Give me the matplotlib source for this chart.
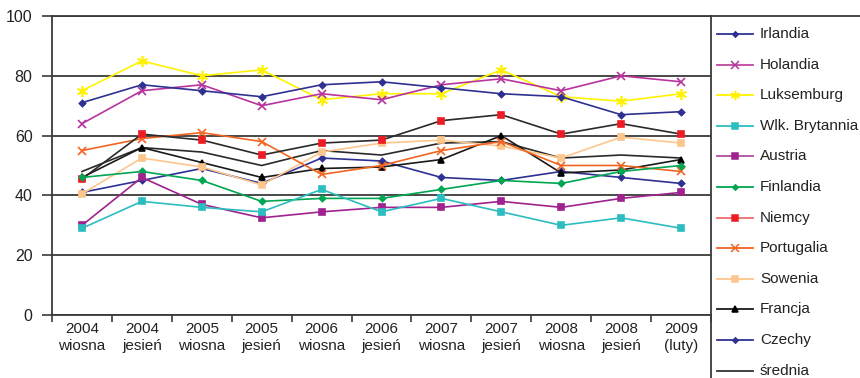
import matplotlib
matplotlib.use("Agg")
from matplotlib import pyplot as plt
from matplotlib.lines import Line2D

plt.rcParams['font.family'] = ['Liberation Sans', 'DejaVu Sans']

periods = ["2004\nwiosna", "2004\njesień", "2005\nwiosna", "2005\njesień", "2006\nwiosna",
           "2006\njesień", "2007\nwiosna", "2007\njesień", "2008\nwiosna", "2008\njesień",
           "2009\n(luty)"]

irlandia = [71, 77, 75, 73, 77, 78, 76, 74, 73, 67, 68]
holandia = [64, 75, 77, 70, 74, 72, 77, 79, 75, 80, 78]
luksemburg = [75, 85, 80, 82, 72, 74, 74, 82, 73, 71.5, 74]
wlk_brytania = [29, 38, 36, 34.5, 42, 34.5, 39, 34.5, 30, 32.5, 29]
austria = [30, 46, 37, 32.5, 34.5, 36, 36, 38, 36, 39, 41]
finlandia = [46, 48, 45, 38, 39, 39, 42, 45, 44, 48, 50]
niemcy = [45.5, 60.5, 58.5, 53.5, 57.5, 58.5, 65, 67, 60.5, 64, 60.5]
portugalia = [55, 59, 61, 58, 47, 50, 55, 58, 50, 50, 48]
slowenia = [40.5, 52.5, 49.5, 43.5, 54.5, 57.5, 58.5, 56.5, 52.5, 59.5, 57.5]
francja = [46, 56, 51, 46, 49, 49.5, 52, 60, 47.5, 48.5, 52]
czechy = [41, 45, 49, 44, 52.5, 51.5, 46, 45, 48, 46, 44]
srednia = [48, 56, 54.5, 50, 55, 53.5, 57.5, 58, 52.5, 53.5, 52.5]

# name, values, line colour, marker colour, marker, marker size, legend line colour
series = [
    ("Irlandia", irlandia, "#2e3192", "#2e3192", "D", 3.2, "#2e3192"),
    ("Holandia", holandia, "#b8339e", "#b8339e", "x", 6, "#c2479f"),
    ("Luksemburg", luksemburg, "#fff200", "#fff200", (6, 2, 0), 8, "#fff200"),
    ("Wlk. Brytannia", wlk_brytania, "#2bbdc0", "#2bbdc0", "s", 4.5, "#2bbdc0"),
    ("Austria", austria, "#a0228f", "#a0228f", "s", 4.5, "#b04ea0"),
    ("Finlandia", finlandia, "#00a651", "#00a651", "D", 3.2, "#00a651"),
    ("Niemcy", niemcy, "#2a2a2a", "#ed1c24", "s", 5, "#f06b6f"),
    ("Portugalia", portugalia, "#f26522", "#f26522", "x", 6, "#f26522"),
    ("Sowenia", slowenia, "#fdc68c", "#fdc68c", "s", 5, "#fdc68c"),
    ("Francja", francja, "#1a1a1a", "#000000", "^", 5, "#1a1a1a"),
    ("Czechy", czechy, "#2e3192", "#2e3192", "D", 3.2, "#2e3192"),
    ("średnia", srednia, "#2a2a2a", "#2a2a2a", "", 0, "#333333"),
]

W, H = 860, 378
fig = plt.figure(figsize=(W / 100, H / 100), dpi=100)
left, right, top, bottom = 52, 711, 16, 315
ax = fig.add_axes([left / W, 1 - bottom / H, (right - left) / W, (bottom - top) / H])

grid_col = "#3a3a3a"
x = list(range(len(periods)))
for name, vals, lc, mc, mk, ms, _ in series[::-1]:
    ax.plot(x, vals, color=lc, lw=1.2, marker=mk if mk else None, ms=ms,
            markerfacecolor=mc, markeredgecolor=mc, mew=1.2, zorder=3)

ax.set_xlim(-0.5, len(periods) - 0.5)
ax.set_ylim(0, 100)
ax.set_yticks([0, 20, 40, 60, 80, 100])
ax.set_xticks([i - 0.5 for i in range(len(periods) + 1)])
ax.set_xticklabels([])
ax.set_xticks(x, minor=True)
ax.set_xticklabels(periods, minor=True, fontsize=11, color="#222222", linespacing=1.3)
ax.tick_params(axis="x", which="minor", length=0, pad=5)
ax.tick_params(axis="x", which="major", length=5, width=1.2, color=grid_col, direction="out")
ax.tick_params(axis="y", length=7, width=1.2, color=grid_col, labelsize=11.5,
               labelcolor="#222222", pad=7)
ax.yaxis.grid(True, color=grid_col, lw=1.3, zorder=1)
ax.set_axisbelow(True)
ax.spines["right"].set_visible(False)
for s in ["left", "bottom", "top"]:
    ax.spines[s].set_color(grid_col)
    ax.spines[s].set_linewidth(1.3)

# legend panel on the right
fig.add_artist(Line2D([right / W, 1], [1 - top / H] * 2, transform=fig.transFigure,
                      color=grid_col, lw=1.3))
fig.add_artist(Line2D([right / W] * 2, [0, 1 - top / H], transform=fig.transFigure,
                      color=grid_col, lw=1.3))
row0, step = 34, 30.6
for i, (name, vals, lc, mc, mk, ms, legc) in enumerate(series):
    yy = 1 - (row0 + i * step) / H
    fig.add_artist(Line2D([717 / W, 753 / W], [yy, yy], transform=fig.transFigure,
                          color=legc, lw=1.3))
    if mk:
        fig.add_artist(Line2D([735 / W], [yy], transform=fig.transFigure, marker=mk,
                              ms=ms * 0.85, color=mc, mew=1.1))
    fig.text(760 / W, yy, name, fontsize=11, color="#222222", va="center", ha="left")

fig.savefig("out.png", dpi=100)
